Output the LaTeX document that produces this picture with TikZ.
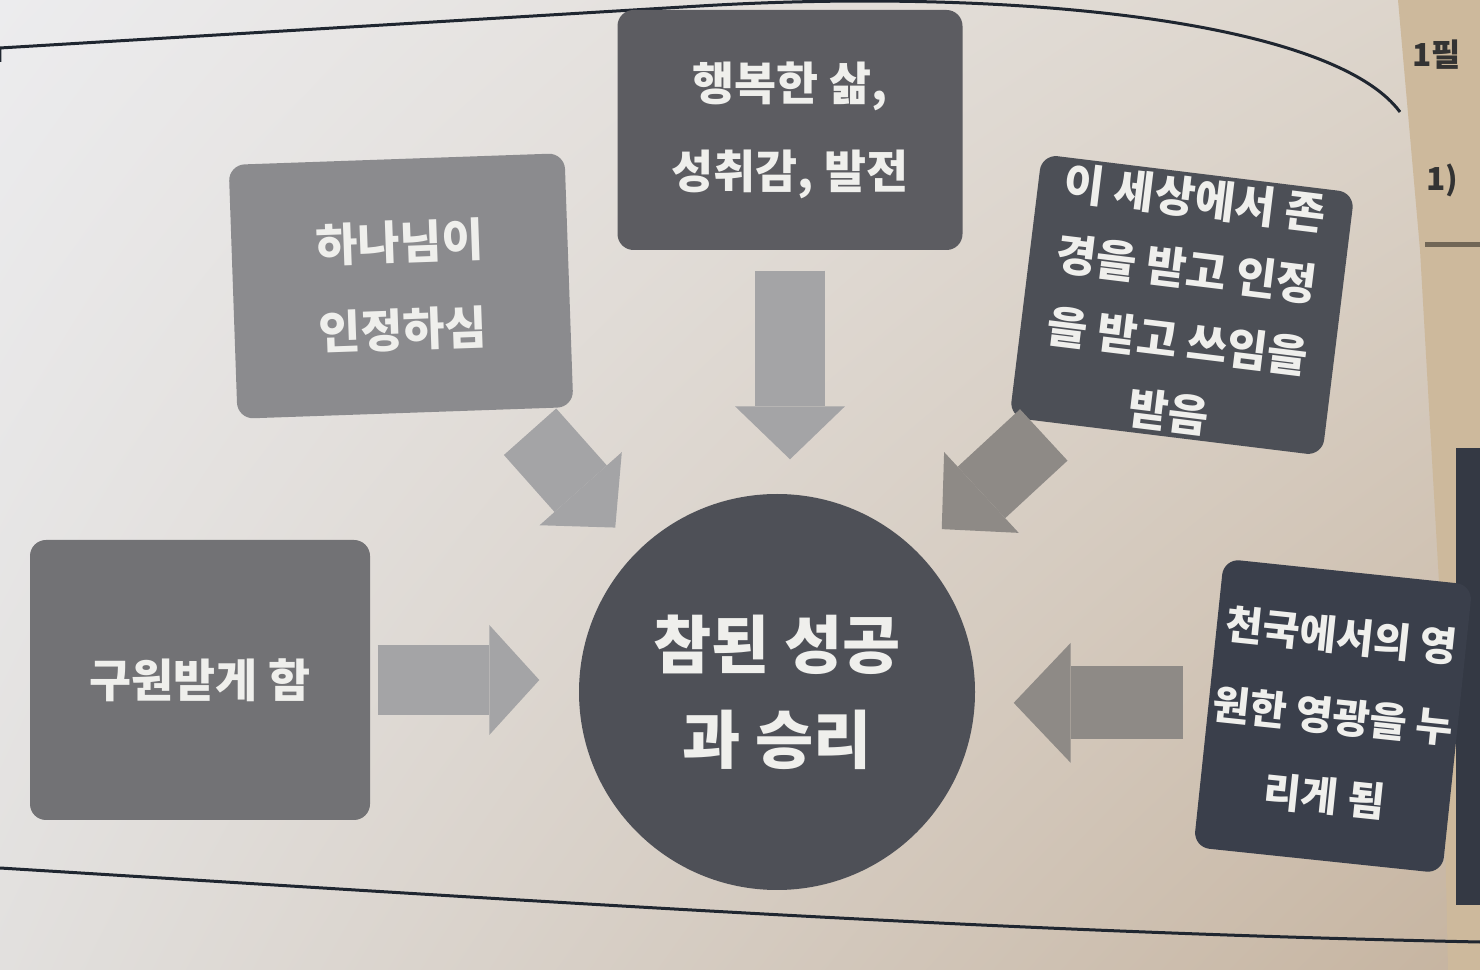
\documentclass[tikz,border=0pt]{standalone}
\usepackage{fontspec}
\newfontfamily\kr{Noto Sans CJK KR}
\usetikzlibrary{arrows.meta,calc,shadings}
\definecolor{bgUL}{HTML}{ECECEE}
\definecolor{bgUR}{HTML}{DCD4CA}
\definecolor{bgLL}{HTML}{E2E0DE}
\definecolor{bgLR}{HTML}{C6B4A0}
\definecolor{pageB}{HTML}{CDB99C}
\definecolor{cTop}{HTML}{5C5C61}
\definecolor{cLT}{HTML}{8B8B8E}
\definecolor{cRT}{HTML}{4C4F56}
\definecolor{cLB}{HTML}{727275}
\definecolor{cRB}{HTML}{3A3F4B}
\definecolor{cCirc}{HTML}{4E5057}
\definecolor{arrL}{HTML}{A4A4A6}
\definecolor{arrR}{HTML}{8E8A86}
\definecolor{txtW}{HTML}{EFEFEC}
\definecolor{frameC}{HTML}{1F2630}
\begin{document}
\begin{tikzpicture}[x=0.1mm,y=-0.1mm,
  box/.style={draw=none, rounded corners=1.6mm, text=txtW, align=center,
    inner sep=0pt, font=\kr\bfseries\fontsize{13}{25}\selectfont},
  circbox/.style={circle, draw=none, fill=cCirc, text=txtW, align=center,
    inner sep=0pt, minimum size=39.6mm, font=\kr\bfseries\fontsize{18}{27}\selectfont},
  blk/.style={line width=7mm, color=#1},
  frameline/.style={line width=0.3mm, color=frameC},
  pagetext/.style={anchor=west, text=black!80, font=\kr\bfseries\fontsize{9}{10}\selectfont}
]
\useasboundingbox (0,0) rectangle (1480,970);
% paper
\shade[upper left=bgUL, upper right=bgUR, lower left=bgLL, lower right=bgLR]
  (0,0) rectangle (1480,970);
% adjacent page strip
\fill[pageB] (1398,0) -- (1480,0) -- (1480,970) -- (1448,970) -- (1440,600) -- (1420,250) -- cycle;
\node[pagetext] (pg1) at (1400,55) {1필};
\node[pagetext] (pg2) at (1414,180) {1)};
\draw[line width=0.5mm, color=black!45!pageB] (1425,245) -- (1480,245);
\fill[color=cRB!90!black] (1456,448) rectangle (1480,905);
% frame
\draw[frameline] (0,62) -- (0,48) -- (700,6) .. controls (1000,-12) and (1330,18) .. (1400,112);
\draw[frameline] (0,868) .. controls (600,905) and (1000,932) .. (1480,942);
% boxes
\node[box, fill=cTop, minimum width=34.5mm, minimum height=24mm] (top) at (790,130)
  {행복한 삶,\\성취감, 발전};
\node[box, fill=cLT, minimum width=33.6mm, minimum height=25.4mm, rotate=2] (lt) at (401,286)
  {하나님이\\인정하심};
\node[box, fill=cRT, minimum width=31.5mm, minimum height=26.5mm, rotate=-7,
  font=\kr\bfseries\fontsize{12.5}{20.5}\selectfont] (rt) at (1182,305)
  {이 세상에서 존\\경을 받고 인정\\을 받고 쓰임을\\받음};
\node[box, fill=cLB, minimum width=34mm, minimum height=28mm] (lb) at (200,680)
  {구원받게 함};
\node[box, fill=cRB, minimum width=25mm, minimum height=29mm, rotate=-6,
  font=\kr\bfseries\fontsize{11.5}{23}\selectfont] (rb) at (1333,716)
  {천국에서의 영\\원한 영광을 누\\리게 됨};
\node[circbox] (circ) at (777,692) {참된 성공\\과 승리};
% block arrows
\draw[blk=arrL, -{Triangle[width=11mm,length=5.3mm,line width=0pt]},
  shorten <=2mm, shorten >=3.4mm] (top.south) -- (top.south |- circ.north);
\draw[blk=arrL, -{Triangle[width=11mm,length=5.2mm,line width=0pt]},
  shorten >=3.2mm] ([shift={(-44,24)}]lt.south east) -- (circ.135);
\draw[blk=arrR, -{Triangle[width=11mm,length=5.4mm,line width=0pt]},
  shorten >=3.3mm] ([shift={(35,17)}]rt.south west) -- (circ.45);
\draw[blk=arrL, -{Triangle[width=11mm,length=5mm,line width=0pt]},
  shorten <=0.7mm, shorten >=3.9mm] (lb.east) -- (lb.east -| circ.west);
\draw[blk=arrR, line width=7.3mm, -{Triangle[width=12mm,length=5.7mm,line width=0pt]},
  shorten <=2.5mm, shorten >=3.8mm] (rb.west) -- (rb.west -| circ.east);
\end{tikzpicture}
\end{document}
